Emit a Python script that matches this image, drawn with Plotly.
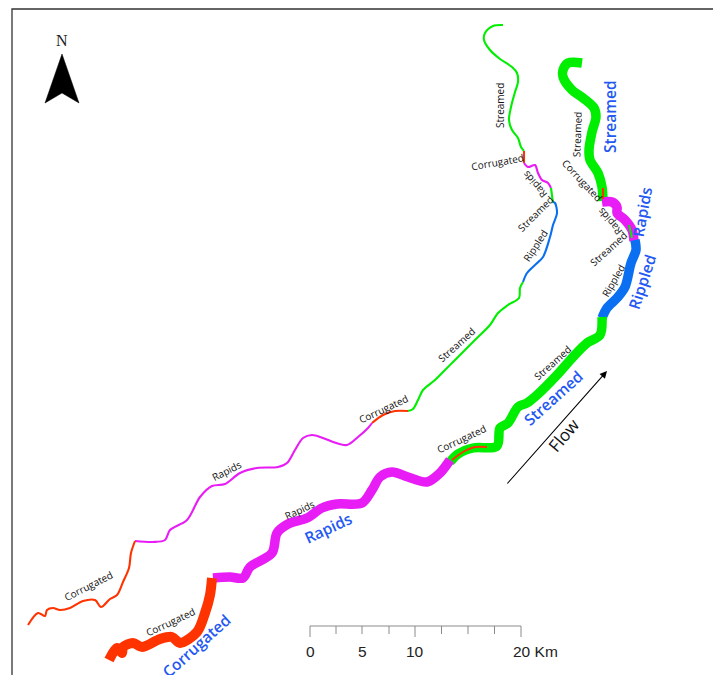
import plotly.graph_objects as go

a1_x = [503, 493, 485, 484, 490, 500, 512, 517, 518, 515, 511, 509, 512, 518, 521, 524]
a1_y = [25, 26, 33, 40, 50, 59, 67, 73, 82, 92, 107, 120, 130, 138, 147, 151]
a2_x = [524, 524]
a2_y = [151, 163]
a3_x = [524, 528, 535, 538, 542, 548, 551]
a3_y = [163, 167, 165, 173, 180, 183, 188]
a4_x = [551, 553]
a4_y = [188, 203]
a5_x = [553, 555, 557, 553, 550, 543, 535, 527, 523]
a5_y = [202, 203, 213, 225, 237, 257, 265, 273, 282]
a6_x = [523, 520, 519, 508, 498, 490, 477, 465, 453, 445, 435, 423, 418, 413, 408]
a6_y = [282, 288, 298, 305, 313, 325, 338, 350, 362, 370, 380, 390, 400, 409, 411]
a7_x = [408, 395, 383, 372]
a7_y = [411, 411, 415, 423]
a8_x = [372, 368, 358, 347, 333, 323, 312, 303, 295, 287, 278, 257, 240, 225, 212, 200, 187, 170, 165, 153, 135]
a8_y = [423, 428, 437, 445, 442, 438, 435, 438, 450, 463, 467, 468, 473, 484, 486, 497, 520, 530, 540, 542, 541]
a9_x = [135, 131, 129, 123, 117, 110, 101, 95, 83, 70, 60, 53, 47, 45, 38, 28]
a9_y = [541, 553, 568, 582, 595, 599, 607, 600, 601, 608, 610, 608, 610, 616, 613, 625]

# ---- river B (thick, lower) ----
b1_x = [582, 568, 563, 563, 572, 583, 594, 596, 592, 589, 590, 598, 602, 603]
b1_y = [63, 63, 70, 77, 90, 98, 108, 117, 132, 150, 160, 173, 187, 201]
b2_x = [603, 603]
b2_y = [188, 199]
b3_x = [602, 612, 617, 617, 625, 632, 634]
b3_y = [202, 202, 207, 213, 220, 230, 241]
b4_x = [629, 632]
b4_y = [225, 238]
b5_x = [635, 636, 631, 625, 617, 607, 602]
b5_y = [240, 250, 263, 287, 298, 308, 318]
b6_x = [602, 600, 587, 573, 557, 537, 527, 518, 508, 500, 497, 473, 458, 450]
b6_y = [317, 335, 343, 357, 375, 395, 403, 407, 423, 428, 446, 448, 454, 462]
b7_x = [452, 463, 475, 487]
b7_y = [460, 452, 447, 447]
b8_x = [450, 440, 427, 408, 392, 380, 372, 362, 337, 322, 307, 288, 277, 272, 250, 243, 230, 213]
b8_y = [460, 473, 482, 477, 472, 477, 490, 503, 504, 508, 518, 524, 533, 553, 567, 578, 577, 578]
b9_x = [212, 210, 205, 197, 180, 172, 160, 142, 133, 123, 122, 117, 109]
b9_y = [578, 595, 613, 632, 643, 637, 639, 647, 643, 647, 653, 648, 660]

# ---- map furniture ----
arrow_x = [62, 79, 62, 45, 62]
arrow_y = [54, 103, 93, 103, 54]
scale_ticks_x = [310, 336, 362, 389, 415, 441.5, 468, 494.5, 521]
scale_tick_bottom = [637, 634, 634, 634, 637, 634, 634, 634, 637]
scale_labels = ["0", "5", "10", "20 Km"]
scale_label_x = [310, 362, 415, 535.5]

GREEN, MAGENTA, RED, BLUE = "#00EE00", "#E81CF5", "#FF3300", "#0A6FF0"
LABEL_BLUE = "#2458F2"

fig = go.Figure()


def river(x, y, color, width):
    fig.add_trace(go.Scatter(x=x, y=y, mode="lines", hoverinfo="skip",
                             line=dict(color=color, width=width, shape="spline", smoothing=0.9)))


for x, y, c in [(a1_x, a1_y, GREEN), (a2_x, a2_y, RED), (a3_x, a3_y, MAGENTA),
                (a4_x, a4_y, GREEN), (a5_x, a5_y, BLUE), (a6_x, a6_y, GREEN),
                (a7_x, a7_y, RED), (a8_x, a8_y, MAGENTA), (a9_x, a9_y, RED)]:
    river(x, y, c, 2.1)

river(b1_x, b1_y, GREEN, 9.5)
river(b3_x, b3_y, MAGENTA, 9.5)
river(b5_x, b5_y, BLUE, 9.5)
river(b6_x, b6_y, GREEN, 9.5)
river(b8_x, b8_y, MAGENTA, 9.5)
river(b9_x, b9_y, RED, 10)
river(b2_x, b2_y, RED, 2)
river(b4_x, b4_y, GREEN, 2)
river(b7_x, b7_y, RED, 2)

# north arrow
fig.add_trace(go.Scatter(x=arrow_x, y=arrow_y, mode="lines", fill="toself",
                         fillcolor="black", line=dict(color="black", width=0.5),
                         hoverinfo="skip"))

# scale bar
fig.add_trace(go.Scatter(x=[scale_ticks_x[0], scale_ticks_x[-1]], y=[626, 626], mode="lines",
                         line=dict(color="#8a8a8a", width=1), hoverinfo="skip"))
for tx, tb in zip(scale_ticks_x, scale_tick_bottom):
    fig.add_trace(go.Scatter(x=[tx, tx], y=[626, tb], mode="lines",
                             line=dict(color="#8a8a8a", width=1), hoverinfo="skip"))

# frame
fig.add_trace(go.Scatter(x=[12, 12, 713], y=[675, 9, 9], mode="lines",
                         line=dict(color="#333333", width=1.3), hoverinfo="skip"))

small = [
    ("Streamed", 500, 106, -90), ("Corrugated", 497, 162, -10), ("Rapids", 535, 185, -130),
    ("Streamed", 535, 214, -45), ("Rippled", 535, 246, -57), ("Streamed", 456, 345, -42),
    ("Corrugated", 383, 409, -25), ("Rapids", 226, 471, -27), ("Corrugated", 88, 586, -27),
    ("Streamed", 577, 135, -88), ("Corrugated", 582, 180, 47), ("Rapids", 610, 222, -130),
    ("Streamed", 608, 249, -42), ("Rippled", 613, 281, -60), ("Streamed", 552, 363, -42),
    ("Corrugated", 461, 439, -25), ("Rapids", 299, 510, -25), ("Corrugated", 170, 622, -25),
]
large = [
    ("Streamed", 610, 117, -90), ("Rapids", 642, 212, -80), ("Rippled", 642, 282, -72),
    ("Streamed", 553, 398, -42), ("Rapids", 328, 528, -25), ("Corrugated", 196, 646, -42),
]
anns = []
for t, x, y, r in small:
    anns.append(dict(text=t, x=x, y=y, textangle=r, showarrow=False,
                     font=dict(family="Open Sans", size=10, color="#111111")))
for t, x, y, r in large:
    anns.append(dict(text=t, x=x, y=y, textangle=r, showarrow=False,
                     font=dict(family="Open Sans", size=15.5, color=LABEL_BLUE, weight=600)))
anns.append(dict(text="Flow", x=563, y=435, textangle=-50, showarrow=False,
                 font=dict(family="Open Sans", size=17, color="#111111")))
anns.append(dict(text="N", x=62, y=40, showarrow=False,
                 font=dict(family="Liberation Serif", size=16, color="#222222")))
for t, x in zip(scale_labels, scale_label_x):
    anns.append(dict(text=t, x=x, y=651, showarrow=False,
                     font=dict(family="Liberation Sans", size=15.5, color="#222222")))
anns.append(dict(text="", x=607, y=371, ax=506, ay=485, axref="x", ayref="y",
                 showarrow=True, arrowhead=2, arrowsize=1.3, arrowwidth=1.1, arrowcolor="black"))

fig.update_layout(
    width=713, height=675, showlegend=False, annotations=anns,
    margin=dict(l=0, r=0, t=0, b=0), paper_bgcolor="white", plot_bgcolor="white",
    xaxis=dict(range=[0, 713], visible=False, fixedrange=True),
    yaxis=dict(range=[675, 0], visible=False, fixedrange=True),
)
fig.write_html("out.html", config={"displayModeBar": False},
               post_script="document.body.style.margin='0';")
